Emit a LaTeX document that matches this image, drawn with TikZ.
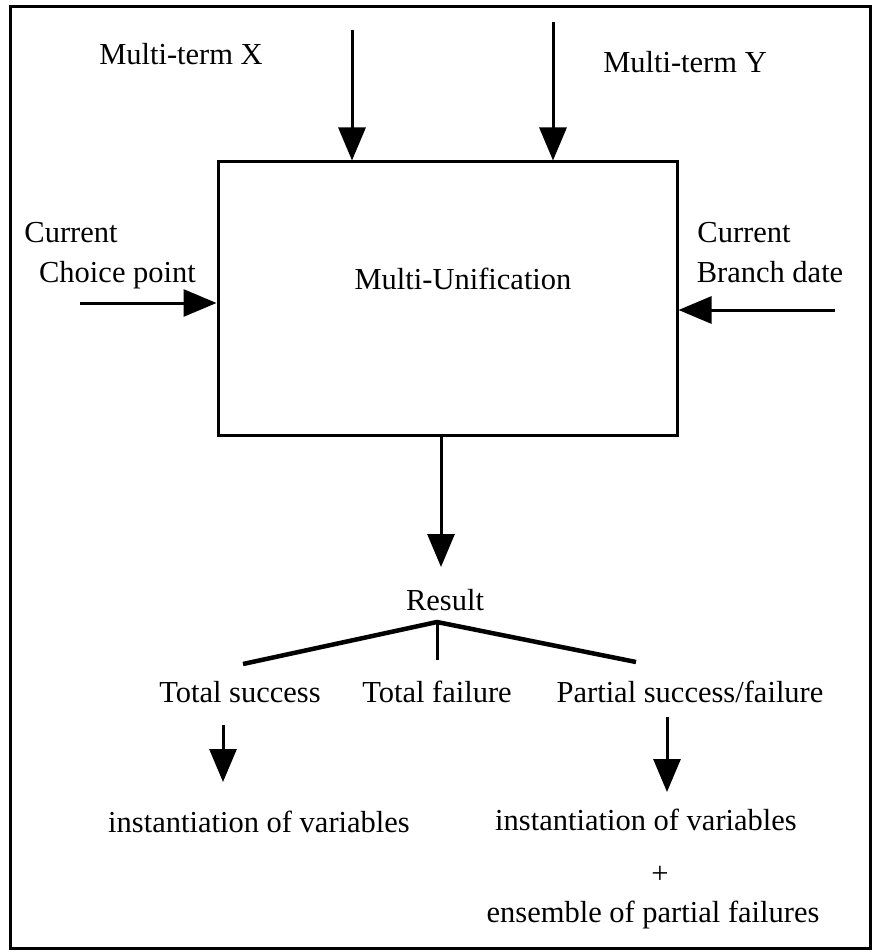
\documentclass[tikz,border=0pt]{standalone}
\usepackage{fontspec}
\setmainfont{Liberation Serif}
\usetikzlibrary{arrows.meta}
\begin{document}
\begin{tikzpicture}[x=1pt,y=-1pt,
  lbl/.style={inner sep=0pt, anchor=base, font=\fontsize{30.5}{36}\selectfont},
  flow/.style={line width=3pt, -{Triangle[length=33pt,width=27pt]}},
  branch/.style={line width=4.5pt, line join=miter},
  boxed/.style={draw, line width=3pt, inner sep=0pt}]
\useasboundingbox (0,0) rectangle (876,952);

% outer frame and the processing block
\node[boxed, minimum width=860pt, minimum height=941pt] (frame) at (440,477.5) {};
\node[boxed, minimum width=459pt, minimum height=273pt] (unif) at (447.5,298.5) {};
\node[lbl] (unifl) at (463,289) {Multi-Unification};

% inputs
\node[lbl] (mx) at (181,65) {Multi-term X};
\node[lbl] (my) at (685,73) {Multi-term Y};
\node[lbl] (cc1) at (71,242) {Current};
\node[lbl] (cc2) at (117.5,282) {Choice point};
\node[lbl] (bd1) at (744,242) {Current};
\node[lbl] (bd2) at (770,282) {Branch date};

\coordinate (xin) at (352,30);
\coordinate (yin) at (553,22);
\coordinate (cin) at (80,303);
\coordinate (bin) at (835,310);
\draw[flow] (xin) -- (xin |- unif.north);
\draw[flow] (yin) -- (yin |- unif.north);
\draw[flow] (cin) -- (cin -| unif.west);
\draw[flow] (bin) -- (bin -| unif.east);

% output
\coordinate (rtip) at (441,567);
\draw[flow] (rtip |- unif.south) -- (rtip);
\node[lbl] (res) at (445,610) {Result};

% the three outcomes
\coordinate (apex) at (437,622);
\coordinate (tl) at (243,664);
\coordinate (tr) at (636,662);
\coordinate (tm) at (437,660);
\draw[branch] (tl) -- (apex) -- (tr);
\draw[line width=3pt] (apex) -- (tm);

\node[lbl] (ts) at (240,702) {Total success};
\node[lbl] (tf) at (437,702) {Total failure};
\node[lbl] (ps) at (690,702) {Partial success/failure};

\coordinate (s1a) at (223,725);
\coordinate (s1b) at (223,782);
\coordinate (s2a) at (667,717);
\coordinate (s2b) at (667,792);
\draw[flow] (s1a) -- (s1b);
\draw[flow] (s2a) -- (s2b);

\node[lbl] (iv1) at (259,832) {instantiation of variables};
\node[lbl] (iv2) at (646,830) {instantiation of variables};
\node[lbl] (plus) at (660,883) {+};
\node[lbl] (epf) at (653,922) {ensemble of partial failures};
\end{tikzpicture}
\end{document}
